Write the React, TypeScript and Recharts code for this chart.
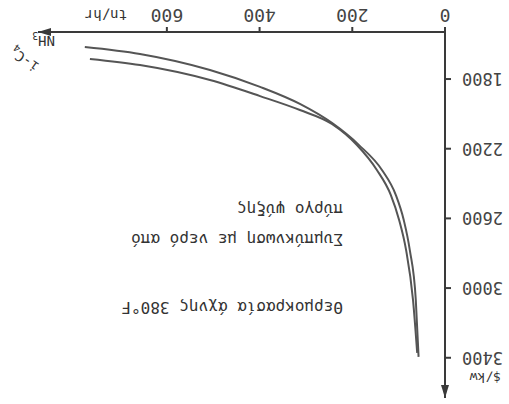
import React from "react";
import { LineChart, Line, XAxis, YAxis, ReferenceDot } from "recharts";

// The reference is a scanned chart printed upside down; the chart is drawn
// the normal way and then the whole box is turned 180 degrees.

const nh3Tn = [57, 63, 76, 89, 106, 136, 186, 244, 313, 399, 507, 658, 777];
const nh3Cost = [3395, 3068, 2781, 2609, 2466, 2322, 2178, 2052, 1943, 1845, 1748, 1656, 1616];

const ic4Tn = [60, 69, 84, 99, 117, 147, 190, 244, 313, 399, 507, 658, 766];
const ic4Cost = [3372, 3068, 2781, 2609, 2465, 2322, 2179, 2058, 1978, 1898, 1806, 1720, 1685];

const xTicks = [0, 200, 400, 600];
const yTicks = [1800, 2200, 2600, 3000, 3400];
const xDomain = [0, 878];
const yDomain = [1530, 3631];

const nh3Data = nh3Tn.map((tn, i) => ({ tn, cost: nh3Cost[i] }));
const ic4Data = ic4Tn.map((tn, i) => ({ tn, cost: ic4Cost[i] }));

const INK = "#3a3a3a";
const MONO = "'DejaVu Sans Mono', monospace";

const ArrowRight = (props: any) => {
  const { cx, cy } = props;
  return <polygon points={`${cx},${cy} ${cx - 13},${cy - 4} ${cx - 13},${cy + 4}`} fill={INK} />;
};

const ArrowUp = (props: any) => {
  const { cx, cy } = props;
  return <polygon points={`${cx},${cy} ${cx - 4},${cy + 13} ${cx + 4},${cy + 13}`} fill={INK} />;
};

const note: React.CSSProperties = {
  position: "absolute",
  fontFamily: MONO,
  color: "#333",
  whiteSpace: "nowrap",
  lineHeight: 1,
};

export default function App() {
  return (
    <div
      style={{
        position: "absolute",
        left: 0,
        top: 0,
        width: 509,
        height: 404,
        background: "#fff",
        transform: "rotate(180deg)",
        overflow: "hidden",
      }}
    >
      <LineChart width={509} height={404} margin={{ top: 6, right: 38, bottom: 2, left: 0 }}>
        <XAxis
          type="number"
          dataKey="tn"
          domain={xDomain}
          ticks={xTicks}
          allowDataOverflow
          height={30}
          stroke={INK}
          strokeWidth={2}
          tickSize={5}
          tickMargin={5}
          tick={{ fontFamily: MONO, fontSize: 18, fill: "#444" }}
        />
        <YAxis
          type="number"
          dataKey="cost"
          domain={yDomain}
          ticks={yTicks}
          allowDataOverflow
          width={64}
          stroke={INK}
          strokeWidth={2}
          tickSize={6}
          tickMargin={11}
          tick={{ fontFamily: MONO, fontSize: 17, fill: "#444" }}
        />
        <Line
          data={nh3Data}
          dataKey="cost"
          type="monotone"
          dot={false}
          stroke="#555"
          strokeWidth={2}
          isAnimationActive={false}
        />
        <Line
          data={ic4Data}
          dataKey="cost"
          type="monotone"
          dot={false}
          stroke="#555"
          strokeWidth={2}
          isAnimationActive={false}
        />
        <ReferenceDot x={xDomain[1]} y={yDomain[0]} r={0} ifOverflow="visible" shape={ArrowRight} />
        <ReferenceDot x={xDomain[0]} y={yDomain[1]} r={0} ifOverflow="visible" shape={ArrowUp} />
      </LineChart>

      <div style={{ ...note, left: 166, top: 89, fontSize: 16 }}>Θερμοκρασία άχνης 380°F</div>
      <div style={{ ...note, left: 166, top: 157, fontSize: 16 }}>Συμπύκνωση με νερό από</div>
      <div style={{ ...note, left: 166, top: 187, fontSize: 16 }}>πύργο ψύξης</div>

      <div style={{ ...note, left: 382, top: 382, fontSize: 14 }}>tn/hr</div>
      <div style={{ ...note, left: 8, top: 20, fontSize: 13 }}>$/kw</div>
      <div style={{ ...note, left: 454, top: 356, fontSize: 14 }}>
        NH<sub style={{ fontSize: 10 }}>3</sub>
      </div>
      <div style={{ ...note, left: 468, top: 337, fontSize: 14, transform: "rotate(35deg)" }}>
        i-C<sub style={{ fontSize: 10 }}>4</sub>
      </div>
    </div>
  );
}
